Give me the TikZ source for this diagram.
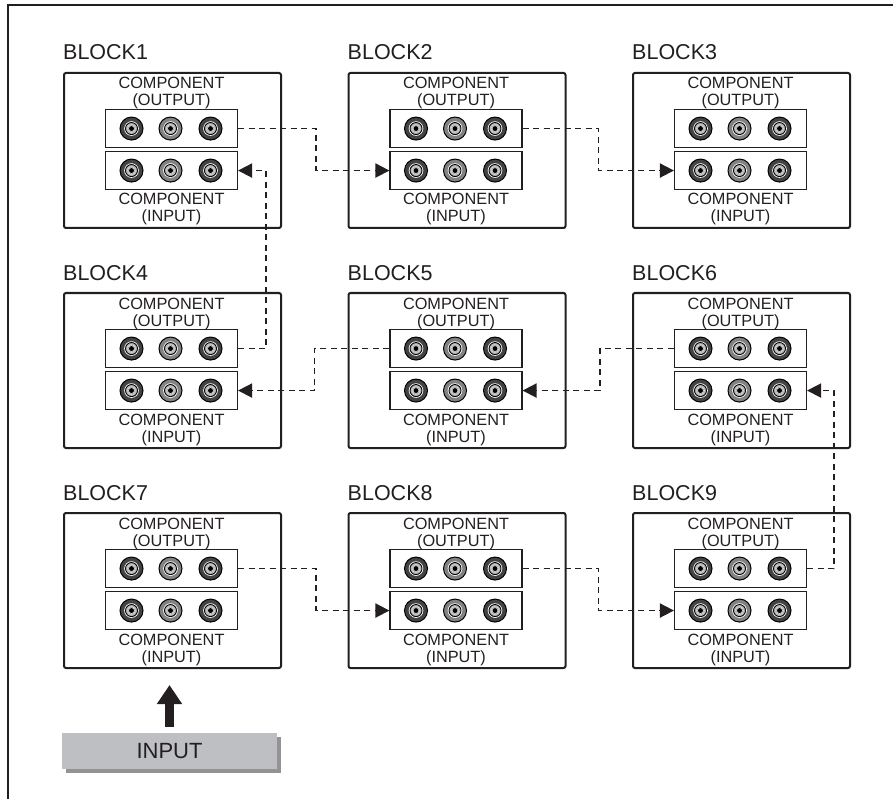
\documentclass[tikz,border=0pt]{standalone}
\usepackage{fontspec}
\setmainfont{Liberation Sans}
\usetikzlibrary{arrows.meta,shadows}
\definecolor{jdark}{HTML}{434343}
\definecolor{jmid}{HTML}{828282}
\definecolor{inputfill}{HTML}{BEBFC3}
\definecolor{shadowgray}{HTML}{939393}
\definecolor{ink}{HTML}{231F20}
\tikzset{
  blockbox/.style={draw=ink, line width=2pt, rounded corners=2pt, minimum width=217pt, minimum height=155pt, inner sep=0pt, anchor=north west},
  panel/.style={draw=ink, line width=1.1pt, minimum width=132pt, minimum height=38pt, inner sep=0pt, anchor=north},
  blocklabel/.style={inner sep=0pt, anchor=base west, text=ink, font=\fontsize{21.5}{21.5}\selectfont},
  comptext/.style={inner sep=0pt, anchor=base, text=ink, font=\fontsize{16.3}{16.3}\selectfont},
  conn/.style={draw=ink, line width=1.8pt, dash pattern=on 6pt off 4.5pt, -{Triangle[length=14pt,width=14pt]}},
  bigarrow/.style={draw=ink, line width=8.5pt, -{Triangle[length=19pt,width=24pt]}},
  inbox/.style={fill=inputfill, minimum width=215pt, minimum height=36pt, inner sep=0pt, text=ink, font=\fontsize{22}{22}\selectfont,
    drop shadow={shadow xshift=3.5pt, shadow yshift=-3.5pt, fill=shadowgray, opacity=1}},
  pics/jack/.style={code={
    \fill[#1, draw=black, line width=1pt] (0,0) circle[radius=11.5];
    \fill[white] (0,0) circle[radius=7.3];
    \fill[gray!55, draw=black, line width=0.9pt] (0,0) circle[radius=6.0];
    \fill[white] (0,0) circle[radius=4.0];
    \draw[gray!75, line width=0.6pt] (0,0) circle[radius=3.4];
    \fill[black] (0,0) circle[radius=2.5];
  }}
}
\begin{document}
\begin{tikzpicture}[x=1pt,y=-1pt]
\useasboundingbox (0,0) rectangle (893,799);
\fill[white] (0,0) rectangle (893,799);
% frame (top and left edges)
\draw[ink, line width=2.2pt] (8,799) -- (8,5) -- (893,5);
% blocks
\foreach \n/\X/\Y in {1/63/72, 2/347.5/72, 3/632/72,
                       4/63/292, 5/347.5/292, 6/632/292,
                       7/63/512, 8/347.5/512, 9/632/512}{
  \node[blockbox] (b\n) at (\X,\Y) {};
  \node[blocklabel] (l\n) at (\X,\Y-12) {BLOCK\n};
  \node[panel] (o\n) at (\X+108.5,\Y+37) {};
  \node[panel] (i\n) at (\X+108.5,\Y+79) {};
  \node[comptext] (ct\n) at (\X+108.5,\Y+17) {COMPONENT};
  \node[comptext] (co\n) at (\X+108.5,\Y+34) {(OUTPUT)};
  \node[comptext] (cb\n) at (\X+108.5,\Y+133) {COMPONENT};
  \node[comptext] (ci\n) at (\X+108.5,\Y+150) {(INPUT)};
  \foreach \dx/\c in {-40/jdark, -1/jmid, 39/jdark}{
    \pic at ([xshift=\dx pt]o\n.center) {jack=\c};
    \pic at ([xshift=\dx pt]i\n.center) {jack=\c};
  }
}
% connectors
\draw[conn] (o1.east) -- ++(78,0) |- (i2.west);
\draw[conn] (o2.east) -- ++(76,0) |- (i3.west);
\draw[conn] (o4.east) -- ++(28,0) |- (i1.east);
\draw[conn] (o5.west) -- ++(-75,0) |- (i4.east);
\draw[conn] (o6.west) -- ++(-74,0) |- (i5.east);
\draw[conn] (o9.east) -- ++(27,0) |- (i6.east);
\draw[conn] (o7.east) -- ++(78,0) |- (i8.west);
\draw[conn] (o8.east) -- ++(76,0) |- (i9.west);
% input
\node[inbox] (inp) at (169.5,751) {INPUT};
\draw[bigarrow, shorten <=6pt, shorten >=16pt] (inp.north) -- (inp.north |- b7.south);
\end{tikzpicture}
\end{document}
